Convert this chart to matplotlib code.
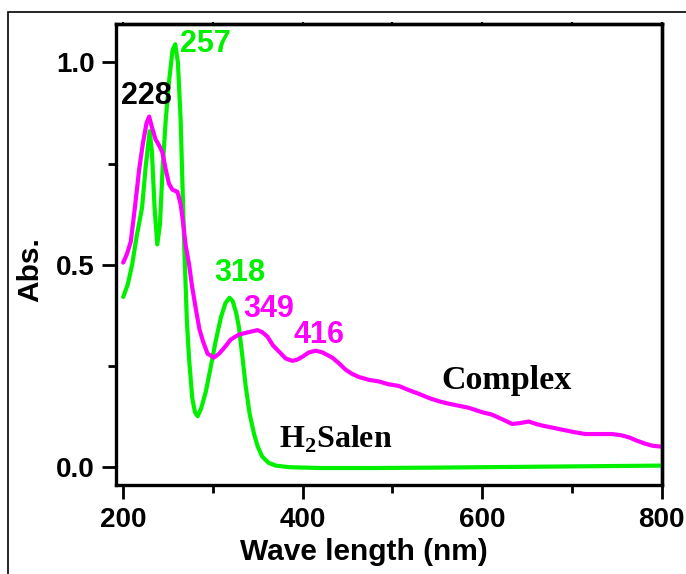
import matplotlib
matplotlib.use("Agg")
import matplotlib.pyplot as plt
from matplotlib.patches import Rectangle
from matplotlib.ticker import MultipleLocator

plt.rcParams["mathtext.fontset"] = "custom"
plt.rcParams["mathtext.rm"] = "Liberation Serif"
plt.rcParams["mathtext.bf"] = "Liberation Serif:bold"

# H2Salen (green)
salen_nm = [200, 205, 210, 215, 221, 225, 229.5, 232, 235, 238, 241, 244, 247.5, 251, 255, 258,
            261, 264, 268, 271, 273.5, 277, 280, 283, 287, 292, 297, 303, 309, 314, 318.5, 322,
            326, 329, 333, 336.5, 341, 346, 350, 355, 362, 370, 385, 420, 480, 550, 650, 750, 800]
salen_abs = [0.42, 0.45, 0.50, 0.57, 0.64, 0.74, 0.83, 0.78, 0.64, 0.55, 0.60, 0.74, 0.86, 0.95,
             1.03, 1.045, 1.00, 0.86, 0.55, 0.36, 0.265, 0.17, 0.135, 0.125, 0.145, 0.185, 0.24,
             0.31, 0.37, 0.405, 0.418, 0.41, 0.38, 0.345, 0.27, 0.20, 0.13, 0.08, 0.05, 0.025,
             0.01, 0.003, -0.001, -0.003, -0.003, -0.002, 0.0, 0.002, 0.003]

# Complex (magenta)
complex_nm = [200, 204, 208.5, 213, 217.8, 222, 226, 229, 232, 236, 240, 243.8, 247, 251, 255,
              260.5, 264, 267, 269.8, 273.5, 276.5, 281, 285, 289, 294, 301, 307, 314, 320, 329,
              340, 349.6, 355, 360.7, 367, 373.7, 381, 388.5, 394, 399.7, 407, 414.6, 422, 433,
              441, 448, 455, 462.8, 474, 485, 496, 507, 518, 530, 541, 552, 563, 574, 585, 600,
              611, 622, 633.5, 642, 652, 660, 667, 678, 689, 702, 715, 730, 745, 755, 763.5, 772,
              782, 790, 799]
complex_abs = [0.505, 0.525, 0.557, 0.64, 0.735, 0.80, 0.85, 0.866, 0.84, 0.81, 0.795, 0.777,
               0.74, 0.70, 0.685, 0.68, 0.65, 0.60, 0.545, 0.50, 0.45, 0.39, 0.34, 0.31, 0.28,
               0.27, 0.28, 0.298, 0.315, 0.327, 0.333, 0.338, 0.333, 0.322, 0.30, 0.285, 0.268,
               0.262, 0.265, 0.272, 0.283, 0.287, 0.283, 0.27, 0.255, 0.24, 0.23, 0.222, 0.215,
               0.211, 0.204, 0.20, 0.19, 0.18, 0.17, 0.162, 0.156, 0.151, 0.146, 0.135, 0.129,
               0.118, 0.106, 0.108, 0.112, 0.106, 0.102, 0.097, 0.092, 0.086, 0.081, 0.081, 0.081,
               0.078, 0.073, 0.065, 0.057, 0.052, 0.05]

x_ticks = [200, 400, 600, 800]
y_ticks = [0.0, 0.5, 1.0]

GREEN = "#00f000"
MAGENTA = "#ff00ff"
SANS = ["Liberation Sans", "DejaVu Sans"]
SERIF = ["Liberation Serif", "DejaVu Serif"]

W, H = 686, 574
L, R, T, B = 116, 662, 24, 485
fig = plt.figure(figsize=(W/100, H/100), dpi=100)
ax = fig.add_axes([L/W, 1-B/H, (R-L)/W, (B-T)/H])

ax.plot(salen_nm, salen_abs, color=GREEN, lw=3, solid_capstyle="round", solid_joinstyle="round")
ax.plot(complex_nm, complex_abs, color=MAGENTA, lw=3, solid_capstyle="round", solid_joinstyle="round")

ax.set_xlim(192, 800.5)
ax.set_ylim(-0.045, 1.095)
ax.set_xticks(x_ticks)
ax.set_yticks(y_ticks)
ax.xaxis.set_minor_locator(MultipleLocator(100))
ax.yaxis.set_minor_locator(MultipleLocator(0.25))
ax.tick_params(which="major", direction="out", length=10, width=2, top=False, right=False, pad=5.5)
ax.tick_params(which="minor", direction="out", length=5.5, width=2, top=False, right=False)
for s in ax.spines.values():
    s.set_linewidth(2.4)

# tiny ticks on top and right
sx = ax.secondary_xaxis("top")
sx.set_xticks(x_ticks)
sx.xaxis.set_minor_locator(MultipleLocator(100))
sx.tick_params(which="both", direction="out", length=1.5, width=1.5, labeltop=False)
sx.spines["top"].set_linewidth(2.4)
sy = ax.secondary_yaxis("right")
sy.set_yticks(y_ticks)
sy.yaxis.set_minor_locator(MultipleLocator(0.25))
sy.tick_params(which="both", direction="out", length=1.5, width=1.5, labelright=False)
sy.spines["right"].set_linewidth(2.4)

ax.set_xticklabels([f"{v}" for v in x_ticks], fontsize=20, fontweight="bold", family=SANS)
ax.set_yticklabels([f"{v:.1f}" for v in y_ticks], fontsize=20, fontweight="bold", family=SANS)
ax.set_xlabel("Wave length (nm)", fontsize=21.5, fontweight="bold", family=SANS, va="center")
ax.xaxis.set_label_coords((364-L)/(R-L), (B-552)/(B-T))
ax.set_ylabel("Abs.", fontsize=21.5, fontweight="bold", family=SANS, va="center")
ax.yaxis.set_label_coords((30-L)/(R-L), (B-270)/(B-T))

kw = dict(fontsize=22, fontweight="bold", family=SANS)
ax.text(225.6, 0.916, "228", color="black", ha="center", va="center", **kw)
ax.text(263, 1.045, "257", color=GREEN, ha="left", va="center", **kw)
ax.text(330, 0.48, "318", color=GREEN, ha="center", va="center", **kw)
ax.text(362.6, 0.39, "349", color=MAGENTA, ha="center", va="center", **kw)
ax.text(418, 0.325, "416", color=MAGENTA, ha="center", va="center", **kw)
ax.text(627.6, 0.213, "Complex", color="black", ha="center", va="center",
        fontsize=24.5, fontweight="bold", family=SERIF)
ax.text(436.6, 0.067, "H$_\\mathbf{2}$Salen", color="black", ha="center", va="center",
        fontsize=23, fontweight="bold", family=SERIF)

fig.patches.append(Rectangle((8/W, -0.05), 1.2, 1.05 - 12/H, transform=fig.transFigure,
                             fill=False, edgecolor="black", lw=1.2, clip_on=False))

fig.savefig("out.png", dpi=100)
